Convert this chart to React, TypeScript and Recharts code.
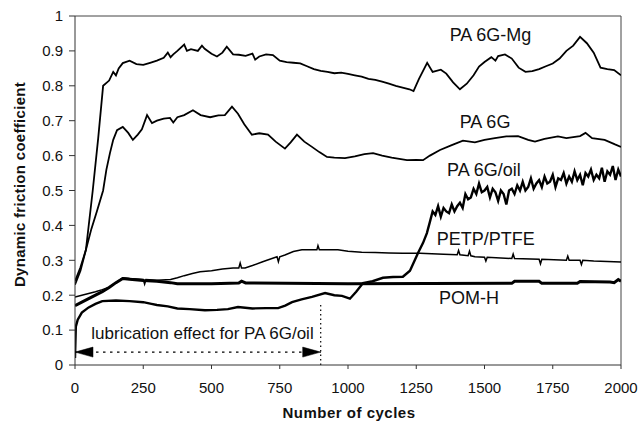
import React from 'react';
import { ComposedChart, Line, XAxis, YAxis, ReferenceLine, ReferenceDot } from 'recharts';

const xTicks = [0, 250, 500, 750, 1000, 1250, 1500, 1750, 2000];
const yTicks = [0, 0.1, 0.2, 0.3, 0.4, 0.5, 0.6, 0.7, 0.8, 0.9, 1];

const mgCycles = [0,20,40,65,85,103,125,140,150,160,175,200,225,250,275,300,325,340,350,360,375,400,410,425,450,465,475,500,520,540,556,579,600,625,650,660,675,700,725,750,775,800,825,850,875,900,925,950,975,1000,1025,1050,1075,1100,1125,1150,1175,1200,1225,1240,1260,1290,1310,1340,1360,1385,1410,1435,1460,1480,1500,1525,1540,1550,1575,1600,1625,1650,1675,1700,1725,1750,1775,1800,1825,1850,1875,1900,1925,1950,1975,2000];
const mgValues = [0.24,0.28,0.33,0.50,0.65,0.80,0.815,0.84,0.83,0.85,0.865,0.872,0.862,0.86,0.866,0.872,0.88,0.895,0.882,0.89,0.90,0.918,0.9,0.905,0.90,0.915,0.906,0.892,0.884,0.895,0.912,0.89,0.889,0.886,0.892,0.875,0.884,0.89,0.888,0.872,0.868,0.866,0.864,0.856,0.848,0.843,0.84,0.836,0.838,0.834,0.83,0.826,0.82,0.817,0.812,0.806,0.80,0.795,0.79,0.785,0.82,0.866,0.84,0.846,0.835,0.81,0.79,0.806,0.83,0.855,0.868,0.882,0.872,0.885,0.89,0.878,0.852,0.84,0.842,0.848,0.856,0.864,0.878,0.90,0.915,0.94,0.922,0.895,0.852,0.848,0.845,0.83];

const pa6gCycles = [0,20,40,60,80,103,115,128,140,154,175,195,212,230,245,264,282,300,325,348,360,375,400,432,460,495,525,549,575,597,620,648,675,707,735,769,790,813,840,868,895,923,950,989,1025,1060,1092,1125,1160,1216,1250,1275,1300,1337,1380,1421,1465,1500,1538,1580,1623,1660,1685,1720,1769,1800,1850,1870,1894,1940,1978,2000];
const pa6gValues = [0.23,0.27,0.33,0.39,0.44,0.50,0.56,0.607,0.645,0.673,0.682,0.665,0.645,0.66,0.675,0.716,0.693,0.70,0.706,0.708,0.695,0.71,0.716,0.73,0.716,0.71,0.715,0.716,0.74,0.72,0.69,0.66,0.664,0.66,0.64,0.62,0.638,0.66,0.64,0.625,0.61,0.596,0.594,0.593,0.598,0.604,0.607,0.60,0.594,0.587,0.588,0.587,0.60,0.616,0.63,0.643,0.638,0.645,0.65,0.655,0.656,0.645,0.64,0.648,0.655,0.65,0.656,0.665,0.65,0.645,0.632,0.625];

const oilCycles = [0,3,10,25,50,75,100,150,200,250,280,300,340,375,420,476,520,560,597,650,700,744,770,795,830,868,916,950,978,1007,1030,1055,1090,1128,1165,1201,1227,1256,1275,1289,1300,1310,1320,1330,1340,1350,1360,1370,1380,1390,1400,1410,1420,1430,1440,1450,1460,1470,1480,1490,1500,1510,1520,1530,1540,1550,1560,1570,1580,1590,1600,1610,1620,1630,1640,1650,1660,1670,1680,1690,1700,1710,1720,1730,1740,1750,1760,1770,1780,1790,1800,1810,1820,1830,1840,1850,1860,1870,1880,1890,1900,1910,1920,1930,1940,1950,1960,1970,1980,1990,2000];
const oilValues = [0.02,0.11,0.13,0.15,0.165,0.175,0.183,0.185,0.183,0.18,0.175,0.172,0.168,0.162,0.16,0.157,0.158,0.16,0.166,0.162,0.163,0.163,0.17,0.18,0.188,0.195,0.206,0.20,0.198,0.19,0.21,0.235,0.24,0.25,0.252,0.253,0.27,0.32,0.35,0.378,0.41,0.44,0.43,0.455,0.425,0.45,0.44,0.435,0.46,0.44,0.455,0.465,0.45,0.49,0.475,0.48,0.505,0.49,0.52,0.495,0.50,0.51,0.48,0.505,0.495,0.47,0.50,0.49,0.46,0.50,0.505,0.49,0.515,0.50,0.525,0.50,0.51,0.535,0.505,0.52,0.53,0.51,0.54,0.52,0.525,0.545,0.51,0.535,0.53,0.55,0.52,0.54,0.525,0.555,0.53,0.545,0.515,0.55,0.54,0.56,0.53,0.545,0.535,0.565,0.525,0.555,0.545,0.57,0.53,0.56,0.54];

const petpCycles = [0,25,50,75,100,125,150,175,200,250,255,260,300,350,375,400,430,458,500,540,579,600,605,610,623,650,685,703,740,745,750,769,800,831,886,890,895,963,1000,1050,1100,1150,1200,1264,1350,1400,1405,1410,1440,1445,1450,1465,1500,1505,1510,1600,1605,1610,1700,1705,1710,1800,1805,1810,1850,1855,1860,1900,2000];
const petpValues = [0.195,0.20,0.205,0.21,0.216,0.223,0.236,0.25,0.248,0.245,0.232,0.245,0.243,0.245,0.25,0.256,0.262,0.267,0.27,0.275,0.278,0.278,0.292,0.278,0.278,0.285,0.295,0.30,0.31,0.296,0.31,0.315,0.325,0.33,0.33,0.342,0.33,0.33,0.326,0.323,0.322,0.321,0.32,0.32,0.317,0.316,0.328,0.316,0.313,0.326,0.313,0.31,0.309,0.298,0.309,0.305,0.318,0.305,0.303,0.29,0.303,0.30,0.312,0.30,0.30,0.288,0.30,0.298,0.295];

const pomCycles = [0,25,50,75,100,125,150,175,200,250,300,350,375,500,600,610,625,1000,1600,1610,1700,1710,1840,1850,1960,1975,1990,2000];
const pomValues = [0.17,0.18,0.19,0.20,0.21,0.222,0.236,0.248,0.246,0.242,0.24,0.236,0.233,0.233,0.235,0.24,0.235,0.233,0.234,0.24,0.24,0.234,0.234,0.239,0.238,0.236,0.245,0.24];

const toData = (xs: number[], ys: number[]) => xs.map((x, i) => ({ x, y: ys[i] }));
const mgData = toData(mgCycles, mgValues);
const pa6gData = toData(pa6gCycles, pa6gValues);
const oilData = toData(oilCycles, oilValues);
const petpData = toData(petpCycles, petpValues);
const pomData = toData(pomCycles, pomValues);

const FONT = '"Liberation Sans", Arial, sans-serif';

const seriesLabels = [
  { text: 'PA 6G-Mg', x: 1522, y: 0.946 },
  { text: 'PA 6G', x: 1502, y: 0.696 },
  { text: 'PA 6G/oil', x: 1498, y: 0.559 },
  { text: 'PETP/PTFE', x: 1505, y: 0.361 },
  { text: 'POM-H', x: 1443, y: 0.192 },
];

const lubText = 'lubrication effect for PA 6G/oil';
const lubStart = 0;
const lubEnd = 900;
const lubY = 0.037;

const arrowHead = (dir: number) => (props: any) => {
  const { cx, cy } = props;
  const pts = `${cx},${cy} ${cx + dir * 18},${cy - 5} ${cx + dir * 18},${cy + 5}`;
  return <polygon points={pts} fill="#000" stroke="#000" strokeWidth={0.5} />;
};

const labelStyle = (size: number) => (props: any) => {
  const vb = props.viewBox || {};
  const cx = vb.x + (vb.width || 0) / 2;
  const cy = vb.y + (vb.height || 0) / 2;
  return (
    <text x={cx} y={cy} textAnchor="middle" dominantBaseline="central" fontFamily={FONT} fontSize={size} fill="#111">
      {props.value}
    </text>
  );
};

const yTitle = () => (
  <text x={25} y={184.5} transform="rotate(-90, 25, 184.5)" textAnchor="middle" fontFamily={FONT} fontWeight="bold" fontSize={15} letterSpacing={0.3} fill="#111">
    Dynamic friction coefficient
  </text>
);

const xTitle = () => (
  <text x={349} y={417.5} textAnchor="middle" fontFamily={FONT} fontWeight="bold" fontSize={15} letterSpacing={0.5} fill="#111">
    Number of cycles
  </text>
);

export default function App() {
  return (
    <div style={{ position: 'absolute', left: 0, top: 0, width: 639, height: 421, background: '#fff' }}>
      <ComposedChart width={639} height={421} margin={{ top: 16, right: 18, left: 0, bottom: 0 }}>
        <XAxis
          type="number"
          dataKey="x"
          domain={[0, 2000]}
          ticks={xTicks}
          allowDataOverflow
          height={56}
          tickSize={4}
          tickMargin={13}
          stroke="#333"
          tick={{ fill: '#111', fontSize: 15, fontFamily: FONT }}
          label={xTitle}
        />
        <YAxis
          type="number"
          dataKey="y"
          domain={[0, 1]}
          ticks={yTicks}
          allowDataOverflow
          width={75}
          tickSize={6}
          tickMargin={6}
          stroke="#333"
          tick={{ fill: '#111', fontSize: 15, fontFamily: FONT }}
          label={yTitle}
        />
        <ReferenceLine y={1} stroke="#444" strokeWidth={1} />
        <ReferenceLine x={2000} stroke="#444" strokeWidth={1} />
        <Line data={mgData} dataKey="y" type="linear" stroke="#000" strokeWidth={1.8} dot={false} isAnimationActive={false} />
        <Line data={pa6gData} dataKey="y" type="linear" stroke="#000" strokeWidth={1.8} dot={false} isAnimationActive={false} />
        <Line data={oilData} dataKey="y" type="linear" stroke="#000" strokeWidth={2.4} dot={false} isAnimationActive={false} />
        <Line data={petpData} dataKey="y" type="linear" stroke="#000" strokeWidth={1.5} dot={false} isAnimationActive={false} />
        <Line data={pomData} dataKey="y" type="linear" stroke="#000" strokeWidth={3} dot={false} isAnimationActive={false} />
        <ReferenceLine
          segment={[{ x: lubStart, y: lubY }, { x: lubEnd, y: lubY }]}
          stroke="#000"
          strokeWidth={1.3}
          strokeDasharray="2.5 4.5"
        />
        <ReferenceLine
          segment={[{ x: lubEnd, y: 0 }, { x: lubEnd, y: 0.18 }]}
          stroke="#000"
          strokeWidth={1.2}
          strokeDasharray="1.5 3"
        />
        <ReferenceDot x={lubStart} y={lubY} r={5} shape={arrowHead(1)} />
        <ReferenceDot x={lubEnd} y={lubY} r={5} shape={arrowHead(-1)} />
        <ReferenceDot x={467} y={0.089} r={1} fill="none" stroke="none" label={{ value: lubText, content: labelStyle(17) }} />
        {seriesLabels.map((l) => (
          <ReferenceDot key={l.text} x={l.x} y={l.y} r={1} fill="none" stroke="none" label={{ value: l.text, content: labelStyle(18) }} />
        ))}
      </ComposedChart>
    </div>
  );
}
